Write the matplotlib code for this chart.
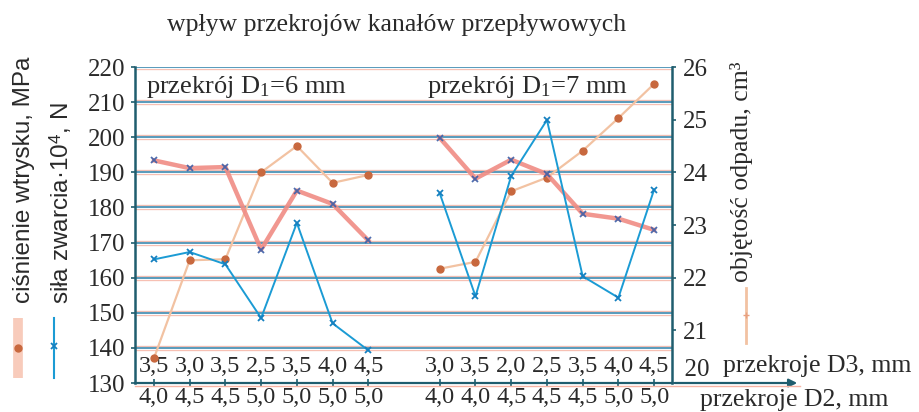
import matplotlib
matplotlib.use('Agg')
import matplotlib.pyplot as plt
from matplotlib.lines import Line2D

plt.rcParams['mathtext.fontset'] = 'custom'
plt.rcParams['mathtext.rm'] = 'Liberation Serif'
plt.rcParams['mathtext.it'] = 'Liberation Serif:italic'
plt.rcParams['mathtext.sf'] = 'Liberation Sans'

# ---------------- data ----------------
d3_g1 = ["3,5", "3,0", "3,5", "2,5", "3,5", "4,0", "4,5"]
d2_g1 = ["4,0", "4,5", "4,5", "5,0", "5,0", "5,0", "5,0"]
d3_g2 = ["3,0", "3,5", "2,0", "2,5", "3,5", "4,0", "4,5"]
d2_g2 = ["4,0", "4,0", "4,5", "4,5", "4,5", "5,0", "5,0"]

pressure_g1 = [193.4, 191.2, 191.5, 168.0, 184.8, 181.0, 170.6]   # ciśnienie wtrysku, MPa
pressure_g2 = [199.8, 188.2, 193.6, 189.5, 178.2, 176.8, 173.6]
force_g1 = [165.2, 167.3, 163.8, 148.5, 175.6, 147.0, 139.3]      # siła zwarcia·10^4, N
force_g2 = [184.0, 154.7, 189.0, 204.9, 160.4, 154.3, 185.1]
waste_g1 = [20.47, 22.33, 22.35, 24.00, 24.50, 23.80, 23.95]      # objętość odpadu, cm3
waste_g2 = [22.17, 22.30, 23.64, 23.90, 24.41, 25.03, 25.68]

left_ticks = [130, 140, 150, 160, 170, 180, 190, 200, 210, 220]
right_ticks = [20, 21, 22, 23, 24, 25, 26]

# ---------------- style ----------------
PINK = '#f08c84'
BLUE = '#1b9bd4'
ORANGE_L = '#f2c2a2'
ORANGE_M = '#c8683e'
MARK_B = '#3c5fa8'
GRID_B = '#5c9cbc'
GRID_P = '#f6b4a4'
AXC = '#1f5d6e'
TXT = '#2a2a2a'
SERIF = 'Liberation Serif'
SANS = 'Liberation Sans'

W, H = 920, 412
fig = plt.figure(figsize=(W / 100, H / 100), dpi=100)
fig.patch.set_facecolor('white')

x0, x1 = 135, 672
y0, y1 = 67, 383
ax = fig.add_axes([x0 / W, 1 - y1 / H, (x1 - x0) / W, (y1 - y0) / H])
ax.set_xlim(-0.53, 14.5)
ax.set_ylim(130, 220)
ax.patch.set_alpha(0)

pos_g1 = list(range(len(d3_g1)))
pos_g2 = [p + len(d3_g1) + 1 for p in range(len(d3_g2))]
positions = pos_g1 + pos_g2

# gridlines (blue with pink edging)
for v in left_ticks[1:]:
    ax.axhline(v, color=GRID_P, lw=3.8, zorder=1)
    ax.axhline(v, color='white', lw=2.4, zorder=1.1)
    ax.axhline(v, color=GRID_B, lw=1.5, zorder=1.2)

ax2 = ax.twinx()
ax2.set_ylim(20, 26)
ax2.set_xlim(-0.53, 14.5)

# series
for pos, vals in ((pos_g1, waste_g1), (pos_g2, waste_g2)):
    ax2.plot(pos, vals, color=ORANGE_L, lw=1.6, zorder=3,
             marker='o', ms=5, mfc=ORANGE_M, mec=ORANGE_M)
for pos, vals in ((pos_g1, pressure_g1), (pos_g2, pressure_g2)):
    ax2.plot(pos, [20 + (v - 130) / 15 for v in vals], color=PINK, lw=3.2, zorder=4,
             marker='x', ms=4, mew=1.3, mec=MARK_B, alpha=0.9)
for pos, vals in ((pos_g1, force_g1), (pos_g2, force_g2)):
    ax2.plot(pos, [20 + (v - 130) / 15 for v in vals], color=BLUE, lw=1.4, zorder=5,
             marker='x', ms=4, mew=1.3, mec='#1580c0')

# axes styling
for s in ('top', 'right'):
    ax.spines[s].set_visible(False)
ax.spines['left'].set_color(AXC)
ax.spines['left'].set_linewidth(1.8)
ax.spines['bottom'].set_color(AXC)
ax.spines['bottom'].set_linewidth(1.6)
for s in ('top', 'left', 'bottom'):
    ax2.spines[s].set_visible(False)
ax2.spines['right'].set_color(AXC)
ax2.spines['right'].set_linewidth(1.8)

ax.set_yticks(left_ticks)
ax.set_yticklabels([str(t) for t in left_ticks], fontfamily=SERIF, fontsize=18, color=TXT)
ax.tick_params(axis='y', direction='out', length=3, width=1.2, color=AXC, pad=4)
ax.set_xticks(positions)
ax.set_xticklabels(d2_g1 + d2_g2, fontfamily=SERIF, fontsize=17.5, color=TXT)
ax.tick_params(axis='x', direction='inout', length=6, width=1.2, color=AXC, pad=0)

ax2.set_yticks(right_ticks)
ax2.set_yticklabels(['' if t == right_ticks[0] else str(t) for t in right_ticks],
                    fontfamily=SERIF, fontsize=18, color=TXT)
ax2.tick_params(axis='y', direction='out', length=3, width=1.2, color=AXC, pad=5)
ax2.text(1.0, right_ticks[0] + 0.03, '  ' + str(right_ticks[0]), ha='left', va='bottom',
         transform=ax2.get_yaxis_transform(), fontfamily=SERIF, fontsize=18, color=TXT)

# pink line under bottom axis and arrow extension
fig.add_artist(Line2D([x0 / W, 800 / W], [1 - 385.5 / H] * 2, color=GRID_P, lw=1.0))
ax.annotate('', xy=(800 / W, 1 - y1 / H), xytext=(x1 / W, 1 - y1 / H),
            xycoords='figure fraction', textcoords='figure fraction',
            arrowprops=dict(arrowstyle='-|>', color=AXC, lw=1.6, mutation_scale=12))

# D3 labels inside the plot, just above the axis
for p, lab in zip(positions, d3_g1 + d3_g2):
    ax.text(p, 134.6, lab, ha='center', va='center', fontfamily=SERIF, fontsize=17.5,
            color=TXT, zorder=6)

# group captions
ax.text(-0.22, 214.4, 'przekrój D$_1$=6 mm', ha='left', va='center',
        fontfamily=SERIF, fontsize=19, color=TXT, zorder=6)
ax.text(7.65, 214.4, 'przekrój D$_1$=7 mm', ha='left', va='center',
        fontfamily=SERIF, fontsize=19, color=TXT, zorder=6)

# title
fig.text(397 / W, 1 - 25 / H, 'wpływ przekrojów kanałów przepływowych', ha='center', va='center',
         fontfamily=SERIF, fontsize=18.5, color=TXT)

# axis names on the right of the x axis
fig.text(723 / W, 1 - 366 / H, 'przekroje D3, mm', ha='left', va='center',
         fontfamily=SERIF, fontsize=18.5, color=TXT)
fig.text(700 / W, 1 - 400 / H, 'przekroje D2, mm', ha='left', va='center',
         fontfamily=SERIF, fontsize=18.5, color=TXT)

# left axis names with legend glyphs
fig.text(24 / W, 1 - 180 / H, 'ciśnienie wtrysku, MPa', rotation=90, ha='center', va='center',
         fontfamily=SANS, fontsize=17.5, color=TXT)
fig.text(61 / W, 1 - 203 / H, 'siła zwarcia·10$^{\\mathsf{4}}$, N', rotation=90, ha='center', va='center',
         fontfamily=SANS, fontsize=17.5, color=TXT)
fig.add_artist(Line2D([18 / W] * 2, [1 - 318 / H, 1 - 378 / H], color='#f8cbbb', lw=7, solid_capstyle='butt'))
fig.add_artist(Line2D([18 / W], [1 - 348 / H], marker='o', ms=5, color=ORANGE_M, ls='none'))
fig.add_artist(Line2D([54 / W] * 2, [1 - 318 / H, 1 - 378 / H], color=BLUE, lw=1.5))
fig.add_artist(Line2D([54 / W], [1 - 346 / H], marker='x', ms=4, mew=1.3, color='#1580c0', ls='none'))

# right axis name with legend glyph
fig.text(742 / W, 1 - 172 / H, 'objętość odpadu, cm³', rotation=90, ha='center', va='center',
         fontfamily=SERIF, fontsize=18.5, color=TXT)
fig.add_artist(Line2D([746 / W] * 2, [1 - 288 / H, 1 - 343 / H], color=ORANGE_L, lw=2))
fig.add_artist(Line2D([746 / W], [1 - 315 / H], marker='+', ms=4, color='#e8a080', ls='none'))

fig.savefig('out.png', dpi=100, facecolor='white')
